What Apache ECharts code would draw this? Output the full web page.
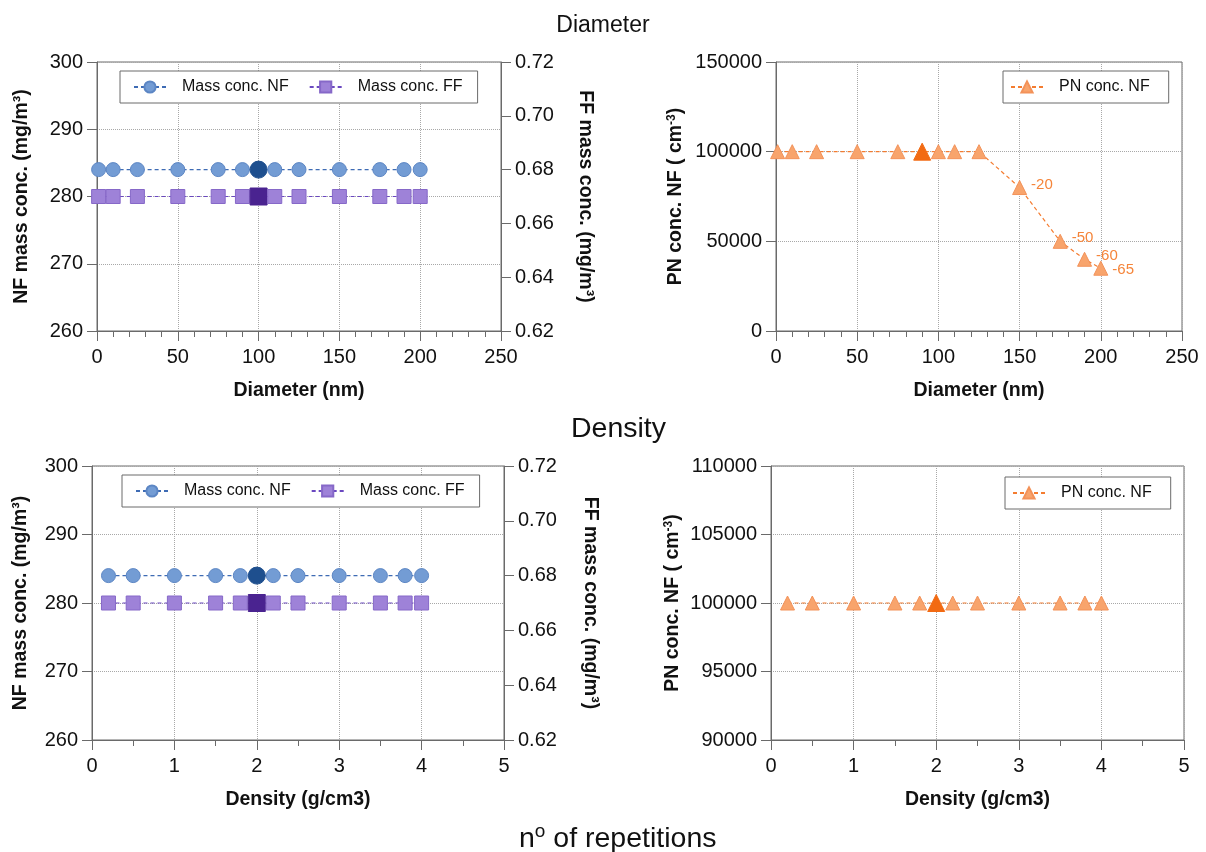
<!DOCTYPE html>
<html>
<head>
<meta charset="utf-8">
<title>Diameter / Density sensitivity</title>
<script src="https://cdn.jsdelivr.net/npm/echarts@6/dist/echarts.min.js"></script>
<style>
  html, body { margin: 0; padding: 0; background: #fff; }
  #chart { width: 1206px; height: 852px; }
</style>
</head>
<body>
<div id="chart"></div>
<script>
// ---- data ----
const diameterNm   = [1, 10, 25, 50, 75, 90, 100, 110, 125, 150, 175, 190, 200];
const massNfDiam   = [284, 284, 284, 284, 284, 284, 284, 284, 284, 284, 284, 284, 284];
const massFfDiam   = [0.67, 0.67, 0.67, 0.67, 0.67, 0.67, 0.67, 0.67, 0.67, 0.67, 0.67, 0.67, 0.67];
const pnNfDiam     = [100000, 100000, 100000, 100000, 100000, 100000, 100000, 100000, 100000, 80000, 50000, 40000, 35000];
const pnChangeDiam = ['', '', '', '', '', '', '', '', '', '-20', '-50', '-60', '-65'];

const densityGcm3  = [0.2, 0.5, 1, 1.5, 1.8, 2, 2.2, 2.5, 3, 3.5, 3.8, 4];
const massNfDens   = [284, 284, 284, 284, 284, 284, 284, 284, 284, 284, 284, 284];
const massFfDens   = [0.67, 0.67, 0.67, 0.67, 0.67, 0.67, 0.67, 0.67, 0.67, 0.67, 0.67, 0.67];
const pnNfDens     = [100000, 100000, 100000, 100000, 100000, 100000, 100000, 100000, 100000, 100000, 100000, 100000];

// reference (base case) points drawn with a filled, larger marker
const massBaseDiameter = 100;
const pnBaseDiameter   = 90;
const baseDensity      = 2;

const massTicks = [260, 300, 10];
const ffTicks   = [0.62, 0.72, 0.02];
const pnDiamTicks = [0, 150000, 50000];
const pnDensTicks = [90000, 110000, 5000];

// ---- styling ----
const FONT = "'Liberation Sans', Arial, Helvetica, sans-serif";
const NF = { fill: '#739cd4', border: '#5c86c4', line: '#3e6bb4', base: '#1e4f8e' };
const FF = { fill: '#9e82d8', border: '#8668c8', line: '#6a48c0', base: '#4a2390' };
const PN = { fill: '#f8a46c', border: '#f39259', line: '#f47c30', base: '#f26a12', label: '#f5853a' };

function points(xs, ys, baseX, pal) {
  return xs.map((x, i) => {
    if (x === baseX) {
      return { value: [x, ys[i]], symbolSize: 17,
               itemStyle: { color: pal.base, borderColor: pal.base } };
    }
    // the last change label sits a little lower so it clears its neighbour
    if (i === xs.length - 1) {
      return { value: [x, ys[i]], label: { offset: [0, 2] } };
    }
    return [x, ys[i]];
  });
}

function lineSeries(name, sym, xs, ys, baseX, pal, gi, yi) {
  return {
    name, type: 'line', symbol: sym, symbolSize: 14,
    xAxisIndex: gi, yAxisIndex: yi,
    data: points(xs, ys, baseX, pal),
    lineStyle: { color: pal.line, width: 1.2, type: [4, 3] },
    itemStyle: { color: pal.fill, borderColor: pal.border, borderWidth: 1 },
    emphasis: { disabled: true },
    z: 3
  };
}

const tickLabel = { color: '#111', fontSize: 20, fontFamily: FONT };
const nameStyle = { color: '#111', fontSize: 19.5, fontWeight: 'bold', fontFamily: FONT,
  rich: { sup: { fontSize: 12, fontWeight: 'bold', fontFamily: FONT, color: '#111',
                 verticalAlign: 'top', lineHeight: 12 } } };
const axisLine = { show: true, lineStyle: { color: '#6a6a6a', width: 1 } };
const split = { show: true, lineStyle: { color: '#a8a8a8', type: 'dotted', width: 1 } };

function xAxis(gi, name, min, max, interval, minorSplit, digits) {
  return {
    type: 'value', gridIndex: gi, min, max, interval,
    name, nameLocation: 'middle', nameGap: 50, nameTextStyle: nameStyle,
    axisLine, axisTick: { show: true, length: 10, lineStyle: { color: '#6a6a6a' } },
    minorTick: { show: true, splitNumber: minorSplit, length: 6, lineStyle: { color: '#6a6a6a' } },
    axisLabel: Object.assign({ margin: 16, formatter: v => v.toFixed(digits) }, tickLabel),
    splitLine: split
  };
}

function yAxis(gi, name, ticks, pos, gap, rotate, digits, grid) {
  return {
    type: 'value', gridIndex: gi, position: pos,
    min: ticks[0], max: ticks[1], interval: ticks[2],
    name, nameLocation: 'middle', nameGap: gap, nameRotate: rotate, nameTextStyle: nameStyle,
    axisLine, axisTick: { show: true, length: 10, lineStyle: { color: '#6a6a6a' } },
    axisLabel: Object.assign({ margin: 14, formatter: v => v.toFixed(digits) }, tickLabel),
    splitLine: grid ? split : { show: false }
  };
}

function legend(names, left, top, pad) {
  return {
    show: true, data: names, left, top, orient: 'horizontal',
    itemWidth: 32, itemHeight: 14, itemGap: 20, padding: pad,
    borderColor: '#6a6a6a', borderWidth: 1, borderRadius: 0, backgroundColor: '#fff',
    textStyle: { color: '#111', fontSize: 16, fontFamily: FONT, padding: [0, 0, 0, 11] },
    selectedMode: false
  };
}

const gridBox = { show: true, borderColor: '#6a6a6a', borderWidth: 1, backgroundColor: 'transparent' };
const headStyle = size => ({ fontSize: size, fontWeight: 'normal', color: '#111', fontFamily: FONT });

const option = {
  animation: false,
  backgroundColor: '#fff',
  title: [
    { text: 'Diameter', left: 'center', top: 9, textStyle: headStyle(23) },
    { text: 'Density', left: 566, top: 410, textStyle: headStyle(28.5) },
    { text: '{b|n}{s|o}{b| of repetitions}', left: 514, top: 817,
      textStyle: Object.assign(headStyle(28.5), {
        rich: { b: { fontSize: 28.5, color: '#111', fontFamily: FONT, lineHeight: 34 },
                s: { fontSize: 19, color: '#111', fontFamily: FONT, verticalAlign: 'top', lineHeight: 22 } } }) }
  ],
  grid: [
    Object.assign({ left: 97,  top: 62,  width: 404, height: 269 }, gridBox),
    Object.assign({ left: 776, top: 62,  width: 406, height: 269 }, gridBox),
    Object.assign({ left: 92,  top: 466, width: 412, height: 274 }, gridBox),
    Object.assign({ left: 771, top: 466, width: 413, height: 274 }, gridBox)
  ],
  xAxis: [
    xAxis(0, 'Diameter (nm)', 0, 250, 50, 5, 0),
    xAxis(1, 'Diameter (nm)', 0, 250, 50, 5, 0),
    xAxis(2, 'Density (g/cm3)', 0, 5, 1, 2, 0),
    xAxis(3, 'Density (g/cm3)', 0, 5, 1, 2, 0)
  ],
  yAxis: [
    yAxis(0, 'NF mass conc. (mg/m³)', massTicks, 'left', 65, 90, 0, true),
    yAxis(0, 'FF mass conc. (mg/m³)', ffTicks, 'right', 74, -90, 2, false),
    yAxis(1, 'PN conc. NF ( cm{sup|-3})', pnDiamTicks, 'left', 90, 90, 0, true),
    yAxis(2, 'NF mass conc. (mg/m³)', massTicks, 'left', 61, 90, 0, true),
    yAxis(2, 'FF mass conc. (mg/m³)', ffTicks, 'right', 76, -90, 2, false),
    yAxis(3, 'PN conc. NF ( cm{sup|-3})', pnDensTicks, 'left', 88, 90, 0, true)
  ],
  legend: [
    legend(['Mass conc. NF', 'Mass conc. FF'], 120, 71, [8, 15, 8, 13]),
    legend(['PN conc. NF'], 1003, 71, [8, 19, 8, 7]),
    legend(['Mass conc. NF', 'Mass conc. FF'], 122, 475, [8, 15, 8, 13]),
    legend(['PN conc. NF'], 1005, 477, [8, 19, 8, 7])
  ],
  series: [
    lineSeries('Mass conc. NF', 'circle', diameterNm, massNfDiam, massBaseDiameter, NF, 0, 0),
    lineSeries('Mass conc. FF', 'rect', diameterNm, massFfDiam, massBaseDiameter, FF, 0, 1),
    Object.assign(lineSeries('PN conc. NF', 'triangle', diameterNm, pnNfDiam, pnBaseDiameter, PN, 1, 2), {
      label: { show: true, position: 'right', distance: 4, offset: [0, -3],
               color: PN.label, fontSize: 15, fontFamily: FONT,
               formatter: p => pnChangeDiam[p.dataIndex] }
    }),
    lineSeries('Mass conc. NF', 'circle', densityGcm3, massNfDens, baseDensity, NF, 2, 3),
    lineSeries('Mass conc. FF', 'rect', densityGcm3, massFfDens, baseDensity, FF, 2, 4),
    lineSeries('PN conc. NF', 'triangle', densityGcm3, pnNfDens, baseDensity, PN, 3, 5)
  ]
};

const chart = echarts.init(document.getElementById('chart'), null, { renderer: 'canvas' });
chart.setOption(option);
</script>
</body>
</html>
